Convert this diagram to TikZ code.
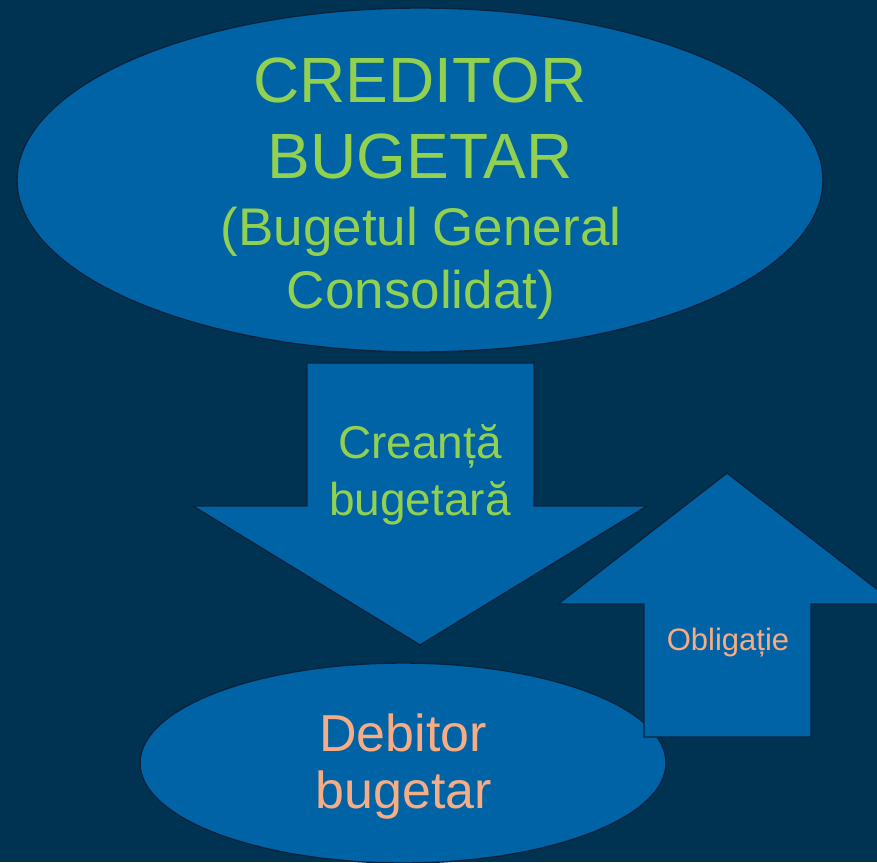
\documentclass[tikz,border=0pt]{standalone}
\usepackage{fontspec}
\setmainfont{Liberation Sans}
\usetikzlibrary{shapes.geometric}
\definecolor{bgnavy}{HTML}{003352}
\definecolor{boxblue}{HTML}{0063A6}
\definecolor{edgenavy}{HTML}{0A2440}
\definecolor{textgreen}{HTML}{92D050}
\definecolor{textpeach}{HTML}{F6AC84}
\tikzset{
    x=1pt, y=-1pt, % pixel-like units, y grows downwards
    blob/.style={ellipse, draw=edgenavy, fill=boxblue, line width=1.4pt, inner sep=0pt}, % the two ellipses
    bigarrow/.style={draw=edgenavy, fill=boxblue, line width=1.4pt, line join=miter}, % the block arrows
    word/.style={anchor=base, inner sep=0pt}, % one line of text, placed on its baseline
    greentext/.style={word, text=textgreen}, % creditor side
    peachtext/.style={word, text=textpeach}, % debitor side
}
\begin{document}
\begin{tikzpicture}
    \fill[bgnavy] (0,0) rectangle (877,862);
    \useasboundingbox (0,0) rectangle (877,862);
    \clip (0,0) rectangle (877,862);
    % creditor
    \node[blob, minimum width=806pt, minimum height=344pt] (creditor) at (420,180) {};
    \node[greentext, font=\fontsize{64}{76}\selectfont] (cred1) at (420,102) {CREDITOR};
    \node[greentext, font=\fontsize{64}{76}\selectfont] (cred2) at (420,178) {BUGETAR};
    \node[greentext, font=\fontsize{53}{63}\selectfont] (cred3) at (421,245) {(Bugetul General};
    \node[greentext, font=\fontsize{53}{63}\selectfont] (cred4) at (421,308) {Consolidat)};
    % down arrow
    \draw[bigarrow] (307,363) -- (534,363) -- (534,506) -- (647,506) -- (420,645)
        -- (193,506) -- (307,506) -- cycle;
    \node[greentext, font=\fontsize{46}{57}\selectfont] (crea1) at (420,458) {Creanță};
    \node[greentext, font=\fontsize{46}{57}\selectfont] (crea2) at (420,515) {bugetară};
    % debitor
    \node[blob, minimum width=526pt, minimum height=200pt] (debitor) at (403,763) {};
    \node[peachtext, font=\fontsize{52}{57}\selectfont] (deb1) at (403,751) {Debitor};
    \node[peachtext, font=\fontsize{52}{57}\selectfont] (deb2) at (404,808) {bugetar};
    % up arrow
    \draw[bigarrow] (644,737) -- (644,604) -- (558,604) -- (727,473) -- (896,604)
        -- (811,604) -- (811,737) -- cycle;
    \node[peachtext, font=\fontsize{31}{36}\selectfont] (oblig) at (728,650) {Obligație};
\end{tikzpicture}
\end{document}
